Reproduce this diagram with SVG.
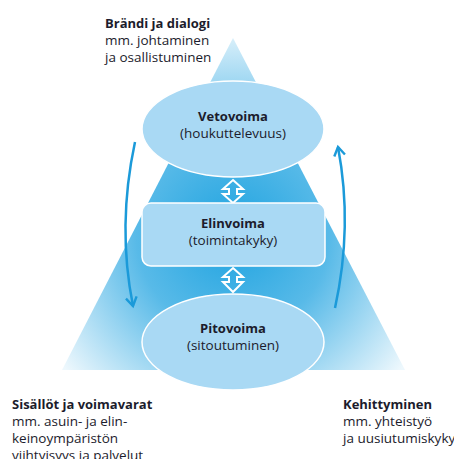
<svg xmlns="http://www.w3.org/2000/svg" width="454" height="459" viewBox="0 0 454 459">
<defs>
<radialGradient id="tri" cx="233" cy="235" r="215" gradientUnits="userSpaceOnUse">
<stop offset="0" stop-color="#1ea3e0"/>
<stop offset="0.45" stop-color="#58bae8"/>
<stop offset="1" stop-color="#eef8fd"/>
</radialGradient>
<marker id="ah" viewBox="0 0 12 12" refX="9" refY="6" markerWidth="13" markerHeight="13" markerUnits="userSpaceOnUse" orient="auto">
<path d="M1,1 L9,6 L1,11" fill="none" stroke="#1b9ad9" stroke-width="2.2"/>
</marker>
</defs>
<style>
.t{font-family:"Open Sans","Noto Sans",sans-serif;font-size:13.5px;fill:#1c1c2c}
.b{font-weight:bold;font-size:13px}
.c{text-anchor:middle}
.node{fill:#a9d9f4;stroke:#ffffff;stroke-width:1.5}
.dbl{fill:none;stroke:#ffffff;stroke-width:2;stroke-linejoin:miter}
.cur{fill:none;stroke:#1b9ad9;stroke-width:2.5}
</style>
<rect width="454" height="459" fill="#ffffff"/>
<polygon points="233,38 62,370 405,370" fill="url(#tri)"/>

<g id="connectors">
<path class="dbl" d="M233,180 L243,189 L237,189 L237,194 L243,194 L233,203 L223,194 L229,194 L229,189 L223,189 Z"/>
<path class="dbl" d="M233,268 L243,277 L237,277 L237,282 L243,282 L233,292 L223,282 L229,282 L229,277 L223,277 Z"/>
<path class="cur" d="M135,142 Q117,226 133,306" marker-end="url(#ah)"/>
<path class="cur" d="M335,308 Q353,226 338,147" marker-end="url(#ah)"/>
</g>

<g id="vetovoima">
<ellipse class="node" cx="233" cy="129" rx="91" ry="48"/>
<text class="t b c" x="233" y="121">Vetovoima</text>
<text class="t c" x="233" y="138">(houkuttelevuus)</text>
</g>
<g id="elinvoima">
<rect class="node" x="142" y="203" width="183" height="63" rx="9"/>
<text class="t b c" x="233" y="228">Elinvoima</text>
<text class="t c" x="233" y="245">(toimintakyky)</text>
</g>
<g id="pitovoima">
<ellipse class="node" cx="233" cy="342" rx="91" ry="48"/>
<text class="t b c" x="233" y="333">Pitovoima</text>
<text class="t c" x="233" y="350">(sitoutuminen)</text>
</g>

<g id="brandi">
<text class="t b" x="105" y="28">Brändi ja dialogi</text>
<text class="t" x="105" y="45">mm. johtaminen</text>
<text class="t" x="105" y="62">ja osallistuminen</text>
</g>
<g id="sisallot">
<text class="t b" x="12" y="409">Sisällöt ja voimavarat</text>
<text class="t" x="12" y="426">mm. asuin- ja elin-</text>
<text class="t" x="12" y="443">keinoympäristön</text>
<text class="t" x="12" y="460">viihtyisyys ja palvelut</text>
</g>
<g id="kehittyminen">
<text class="t b" x="343" y="409">Kehittyminen</text>
<text class="t" x="343" y="426">mm. yhteistyö</text>
<text class="t" x="343" y="443">ja uusiutumiskyky</text>
</g>
</svg>
